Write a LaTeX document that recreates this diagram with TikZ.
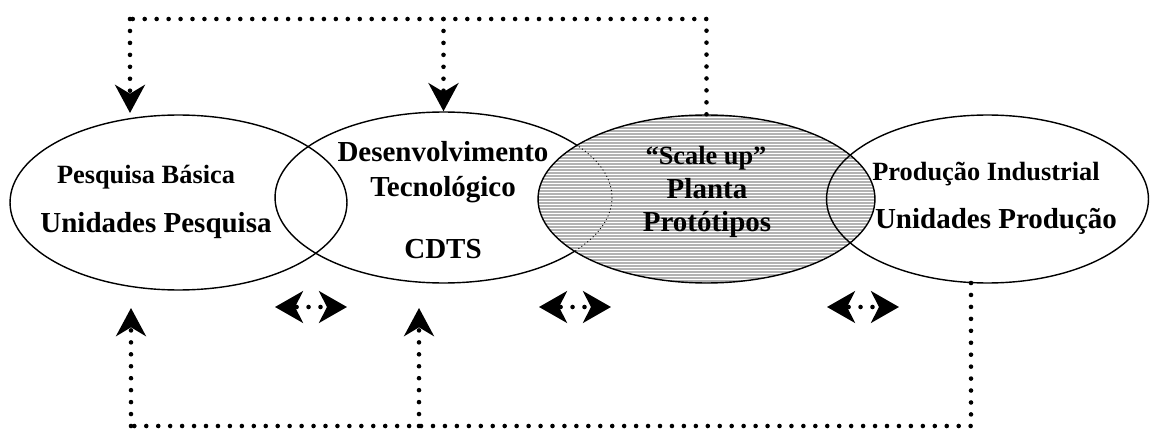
\documentclass[tikz,border=0pt]{standalone}
\usepackage{fontspec}
\setmainfont{Liberation Serif}
\usetikzlibrary{shapes.geometric,arrows.meta,positioning}

\begin{document}
\begin{tikzpicture}[x=0.02cm,y=-0.02cm,
  stage/.style={draw,ellipse,line width=0.8pt,inner sep=0pt},
  big/.style={font=\fontsize{16.5}{18}\selectfont\bfseries,anchor=base,inner sep=0pt},
  small/.style={font=\fontsize{15}{17}\selectfont\bfseries,anchor=base,inner sep=0pt},
  dotline/.style={line width=2.6pt,line cap=round,dash pattern=on 0pt off 6.8pt},
  tip/.style={-{Stealth[length=16pt,width=17pt,inset=5pt]}},
  both/.style={dash phase=5.1pt,
    {Stealth[length=15.9pt,width=18pt,inset=4.5pt]}-{Stealth[length=15.9pt,width=18pt,inset=4.5pt]}}]
\useasboundingbox (0,0) rectangle (1150,429);

\node[stage,minimum width=6.74cm,minimum height=3.5cm] (e1) at (178.5,202.5) {};
\node[stage,minimum width=6.74cm,minimum height=3.42cm] (e2) at (443.5,197.5) {};
\node[stage,fill=black!30,minimum width=6.74cm,minimum height=3.36cm] (e3) at (706.5,199) {};
\begin{scope}
  \clip (e3.center) ellipse [x radius=167.5,y radius=83];
  \foreach \k in {114,117,...,285}
    \draw[white,line width=0.45pt] (536,\k) -- (877,\k);
  \draw[line width=0.5pt,dash pattern=on 0.6pt off 1.5pt] (e2.center) ellipse [x radius=168.5,y radius=85.5];
\end{scope}
\node[stage,minimum width=6.44cm,minimum height=3.36cm] (e4) at (987.5,199) {};

\node[small] (basica) at (146,183) {Pesquisa Básica};
\node[big] (upesq) at (156,233) {Unidades Pesquisa};
\node[big] (desenv) at (443,162) {Desenvolvimento};
\node[big] (tecno) at (443,196) {Tecnológico};
\node[big] (cdts) at (443,258) {CDTS};
\node[small] (scale) at (706,165) {“Scale up”};
\node[big] (planta) at (707,198) {Planta};
\node[big] (proto) at (707,232) {Protótipos};
\node[small] (prodind) at (986,180) {Produção Industrial};
\node[big] (uprod) at (996,228) {Unidades Produção};

\coordinate (tl) at (130,19);
\coordinate (e1top) at (130,113);
\draw[dotline] (e3.north) -- (e3.north |- tl) -- (tl);
\draw[dotline,tip] (tl) -- (e1top);
\draw[dotline,tip] (e2.north |- tl) -- (e2.north);

\coordinate (bl) at (131,426);
\coordinate (e4out) at (971,283);
\coordinate (e1bot) at (131,308);
\coordinate (e2bot) at (419,308);
\draw[dotline] (e4out) -- (e4out |- bl) -- (bl);
\draw[dotline,tip] (bl) -- (e1bot);
\draw[dotline,tip] (e2bot |- bl) -- (e2bot);

\foreach \n/\x in {a/311,b/575,c/863}{
  \coordinate (\n l) at (\x-36,307);
  \coordinate (\n r) at (\x+36,307);
  \draw[dotline,both] (\n l) -- (\n r);
}
\end{tikzpicture}
\end{document}
